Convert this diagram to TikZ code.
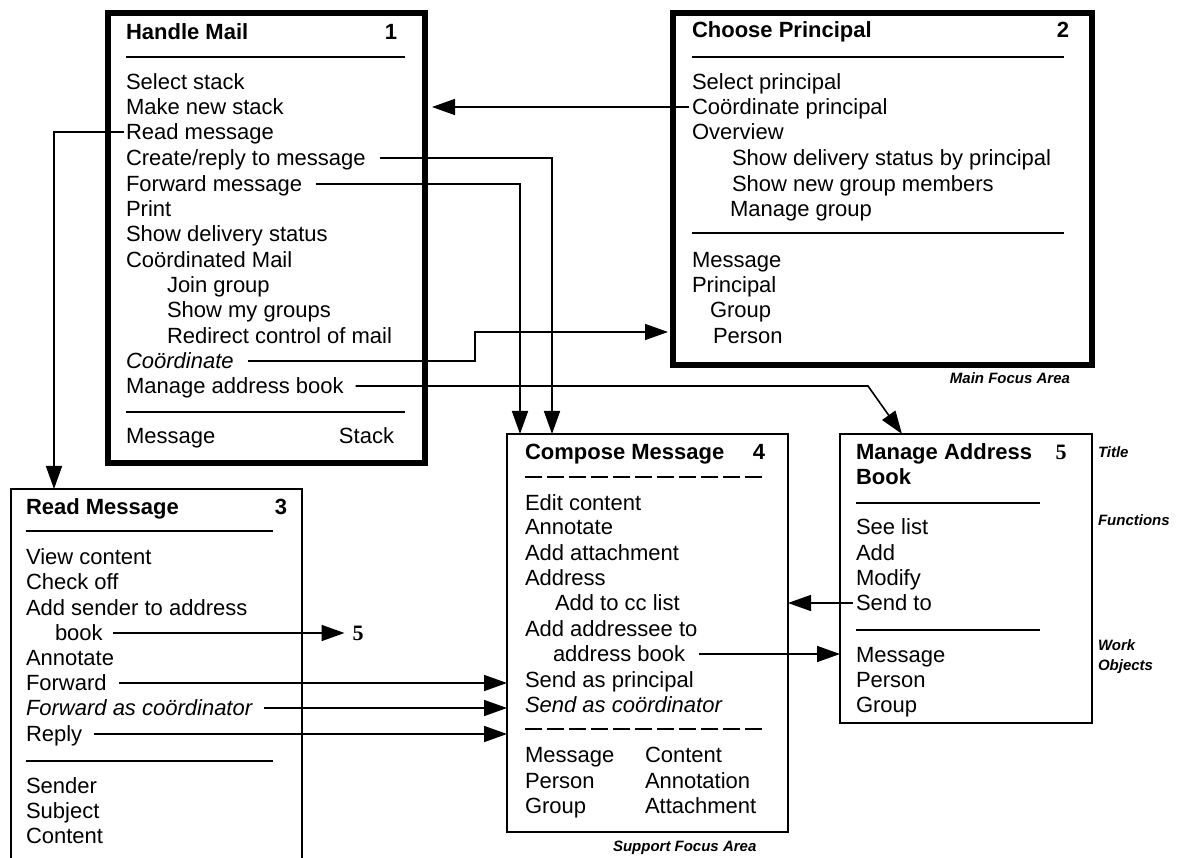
\documentclass[tikz,border=0pt]{standalone}
\usepackage{fontspec}
\setmainfont{Liberation Sans}
\newfontfamily\numfont{Liberation Serif}
\usetikzlibrary{arrows.meta,calc}

\begin{document}
\begin{tikzpicture}[x=1pt,y=-1pt,
  every node/.style={inner sep=0pt, outer sep=0pt},
  item/.style={anchor=west, font=\fontsize{22}{25}\selectfont, text height=15.75pt, text depth=0pt},
  ititem/.style={item, font=\fontsize{22}{25}\selectfont\itshape},
  ttl/.style={anchor=west, font=\fontsize{22}{25}\selectfont\bfseries, text height=15.75pt, text depth=0pt},
  num/.style={anchor=center, font=\fontsize{22}{25}\selectfont\bfseries, text height=15.75pt, text depth=0pt},
  serifnum/.style={num, font=\fontsize{22}{25}\selectfont\numfont\bfseries},
  note/.style={font=\fontsize{15}{17}\selectfont\bfseries\itshape, text height=10.7pt, text depth=0pt},
  box/.style={draw, rectangle, anchor=north west, line width=1.6pt},
  heavybox/.style={box, line width=6pt},
  rule/.style={line width=1.6pt},
  dashrule/.style={line width=1.6pt, dash pattern=on 17pt off 5pt},
  link/.style={line width=1.6pt, -{Triangle[length=23pt,width=16pt]}},
]
\useasboundingbox (0,0) rectangle (1195,858);
\clip (0,0) rectangle (1195,858);

% ---------- frames ----------
\node[heavybox, minimum width=317pt, minimum height=450pt] (hm) at (108,13) {};
\node[heavybox, minimum width=419pt, minimum height=352pt] (cp) at (673,13) {};
\node[box, minimum width=291pt, minimum height=400pt] (rm) at (11,489) {};
\node[box, minimum width=281pt, minimum height=398pt] (cm) at (507,434) {};
\node[box, minimum width=252pt, minimum height=289pt] (mab) at (840,434) {};

% ---------- 1: Handle Mail ----------
\node[ttl] (hm-title) at (126,32) {Handle Mail};
\node[num] (hm-num) at (391,32) {1};
\draw[rule] (126,57) -- (405,57);
\node[item] (hm-sel) at (126,82) {Select stack};
\node[item] (hm-new) at (126,107) {Make new stack};
\node[item] (hm-read) at (126,132) {Read message};
\node[item] (hm-create) at (126,158) {Create/reply to message};
\node[item] (hm-fwd) at (126,184) {Forward message};
\node[item] (hm-print) at (126,209) {Print};
\node[item] (hm-status) at (126,234) {Show delivery status};
\node[item] (hm-cmail) at (126,260) {Coördinated Mail};
\node[item] (hm-join) at (167,285) {Join group};
\node[item] (hm-groups) at (167,310) {Show my groups};
\node[item] (hm-redirect) at (167,336) {Redirect control of mail};
\node[ititem] (hm-coord) at (126,361) {Coördinate};
\node[item] (hm-book) at (126,386) {Manage address book};
\draw[rule] (126,412) -- (405,412);
\node[item] (hm-msg) at (126,436) {Message};
\node[item, anchor=east] (hm-stack) at (394,436) {Stack};

% ---------- 2: Choose Principal ----------
\node[ttl] (cp-title) at (692,30) {Choose Principal};
\node[num] (cp-num) at (1063,30) {2};
\draw[rule] (692,57) -- (1064,57);
\node[item] (cp-sel) at (692,82) {Select principal};
\node[item] (cp-coord) at (692,107) {Coördinate principal};
\node[item] (cp-over) at (692,132) {Overview};
\node[item] (cp-status) at (732,158) {Show delivery status by principal};
\node[item] (cp-members) at (732,184) {Show new group members};
\node[item] (cp-manage) at (730,209) {Manage group};
\draw[rule] (692,233) -- (1064,233);
\node[item] (cp-msg) at (692,260) {Message};
\node[item] (cp-principal) at (692,285) {Principal};
\node[item] (cp-group) at (710,310) {Group};
\node[item] (cp-person) at (713,336) {Person};
\node[note, anchor=east] (main-area) at (1070,378) {Main Focus Area};

% ---------- 3: Read Message ----------
\node[ttl] (rm-title) at (26,507) {Read Message};
\node[num] (rm-num) at (281,507) {3};
\draw[rule] (26,531) -- (273,531);
\node[item] (rm-view) at (26,557) {View content};
\node[item] (rm-check) at (26,582) {Check off};
\node[item] (rm-add) at (26,608) {Add sender to address};
\node[item] (rm-book) at (55,633) {book};
\node[item] (rm-annot) at (26,658) {Annotate};
\node[item] (rm-fwd) at (26,683) {Forward};
\node[ititem] (rm-fwdc) at (26,708) {Forward as coördinator};
\node[item] (rm-reply) at (26,734) {Reply};
\draw[rule] (26,761) -- (273,761);
\node[item] (rm-sender) at (26,786) {Sender};
\node[item] (rm-subject) at (26,811) {Subject};
\node[item] (rm-content) at (26,836) {Content};
\node[serifnum] (five) at (358,633) {5};

% ---------- 4: Compose Message ----------
\node[ttl] (cm-title) at (525,452) {Compose Message};
\node[num] (cm-num) at (759,452) {4};
\draw[dashrule] (525,477) -- (765,477);
\node[item] (cm-edit) at (525,503) {Edit content};
\node[item] (cm-annot) at (525,527) {Annotate};
\node[item] (cm-attach) at (525,553) {Add attachment};
\node[item] (cm-address) at (525,578) {Address};
\node[item] (cm-cc) at (555,603) {Add to cc list};
\node[item] (cm-addee) at (525,629) {Add addressee to};
\node[item] (cm-book) at (553,654) {address book};
\node[item] (cm-send) at (525,680) {Send as principal};
\node[ititem] (cm-sendc) at (525,705) {Send as coördinator};
\draw[dashrule] (525,729) -- (765,729);
\node[item] (cm-msg) at (525,755) {Message};
\node[item] (cm-person) at (525,781) {Person};
\node[item] (cm-group) at (525,806) {Group};
\node[item] (cm-content) at (645,755) {Content};
\node[item] (cm-annotation) at (645,781) {Annotation};
\node[item] (cm-attachment) at (645,806) {Attachment};
\node[note, anchor=west] (support-area) at (613,846) {Support Focus Area};

% ---------- 5: Manage Address Book ----------
\node[ttl] (mab-title) at (856,452) {Manage Address};
\node[ttl] (mab-title2) at (856,477) {Book};
\node[serifnum] (mab-num) at (1061,452) {5};
\draw[rule] (856,503) -- (1040,503);
\node[item] (mab-see) at (856,527) {See list};
\node[item] (mab-add) at (856,553) {Add};
\node[item] (mab-mod) at (856,578) {Modify};
\node[item] (mab-send) at (856,603) {Send to};
\draw[rule] (856,630) -- (1040,630);
\node[item] (mab-msg) at (856,655) {Message};
\node[item] (mab-person) at (856,680) {Person};
\node[item] (mab-group) at (856,705) {Group};

% ---------- legend ----------
\node[note, anchor=west] (lg-title) at (1098,452) {Title};
\node[note, anchor=west] (lg-func) at (1098,520) {Functions};
\node[note, anchor=west] (lg-work) at (1098,645) {Work};
\node[note, anchor=west] (lg-obj) at (1098,665) {Objects};

% ---------- connectors ----------
\coordinate (turn1) at (475,332);
\coordinate (bend2) at (868,0);

\draw[link, shorten >=7pt] ([xshift=-3pt]cp-coord.west) -- (cp-coord.west -| hm.east);
\draw[link] ([xshift=-2pt]hm-read.west) -| ($(rm.north west)+(43,0)$);
\draw[link] ([xshift=14pt]hm-create.east) -| ($(cm.north west)+(45,0)$);
\draw[link] ([xshift=14pt]hm-fwd.east) -| ($(cm.north west)+(13,0)$);
\draw[link, shorten >=5pt] ([xshift=14pt]hm-coord.east) -| (turn1) -- (turn1 -| cp.west);
\draw[link] ([xshift=12pt]hm-book.east) -- (hm-book.east -| bend2) -- ($(mab.north west)+(62,0)$);

\draw[link, shorten >=8pt] ([xshift=10pt]rm-book.east) -- (five.west);
\draw[link] ([xshift=12pt]rm-fwd.east) -- (rm-fwd.east -| cm.west);
\draw[link] ([xshift=12pt]rm-fwdc.east) -- (rm-fwdc.east -| cm.west);
\draw[link] ([xshift=12pt]rm-reply.east) -- (rm-reply.east -| cm.west);

\draw[link] ([xshift=14pt]cm-book.east) -- (cm-book.east -| mab.west);
\draw[link] ([xshift=-3pt]mab-send.west) -- (mab-send.west -| cm.east);
\end{tikzpicture}
\end{document}
